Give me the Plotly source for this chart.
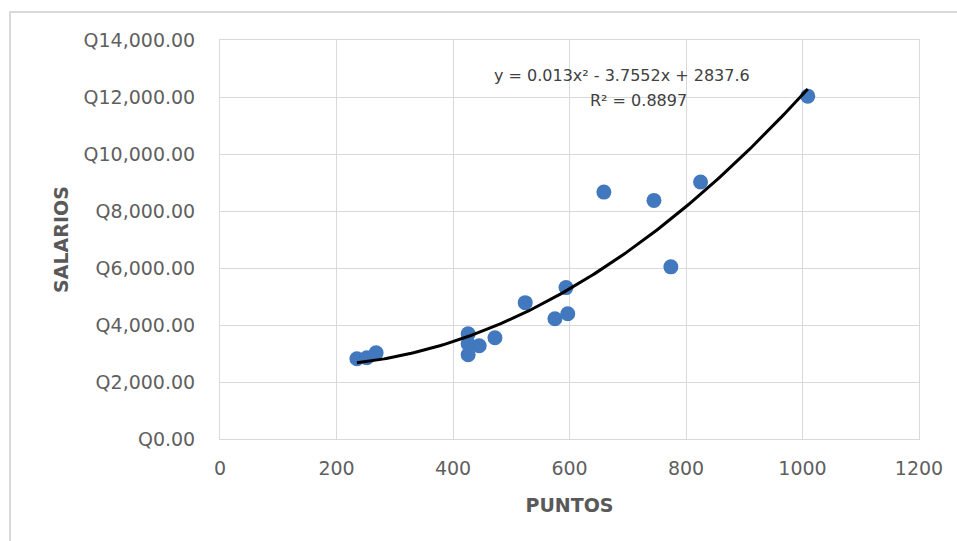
import numpy as np
import plotly.graph_objects as go

# Data
puntos = [235, 252, 268, 426, 426, 445, 426, 472, 524, 575, 597, 594, 659, 745, 774, 825, 1009]
salarios = [2814, 2849, 3025, 3693, 3342, 3271, 2955, 3553, 4784, 4221, 4397, 5312, 8664, 8372, 6040, 9016, 12030]

# Trendline coefficients shown in the chart label
coef_a, coef_b, coef_c = 0.013, -3.7552, 2837.6
eq_text = "y = 0.013x² - 3.7552x + 2837.6"
r2_text = "R² = 0.8897"

x_title = "PUNTOS"
y_title = "SALARIOS"

xs = np.linspace(min(puntos), max(puntos), 200)
ys = coef_a * xs**2 + coef_b * xs + coef_c

fig = go.Figure()
fig.add_trace(go.Scatter(x=puntos, y=salarios, mode="markers",
                         marker=dict(size=15, color="#4178BE"), showlegend=False))
fig.add_trace(go.Scatter(x=xs, y=ys, mode="lines",
                         line=dict(color="#000000", width=3), showlegend=False))

grid = "#D9D9D9"
tick_font = dict(family="DejaVu Sans", size=19, color="#5F5F5F")
title_font = dict(family="DejaVu Sans", size=19, color="#595959")

fig.update_layout(
    width=957, height=541,
    margin=dict(l=220, r=38, t=40, b=102),
    paper_bgcolor="white", plot_bgcolor="white",
    xaxis=dict(range=[0, 1200], dtick=200, tick0=0, showgrid=True, gridcolor=grid, gridwidth=1,
               showline=True, linecolor=grid, linewidth=1, mirror=True, zeroline=False,
               ticks="", tickfont=tick_font, ticklabelstandoff=12,
               title=dict(text="<b>" + x_title + "</b>", font=title_font, standoff=20)),
    yaxis=dict(range=[0, 14000], dtick=2000, tick0=0, showgrid=True, gridcolor=grid, gridwidth=1,
               showline=True, linecolor=grid, linewidth=1, mirror=True, zeroline=False,
               ticks="", tickfont=tick_font, tickprefix="Q", tickformat=",.2f",
               ticklabelstandoff=20,
               title=dict(text="<b>" + y_title + "</b>", font=title_font, standoff=9)),
    annotations=[
        dict(x=690, y=12769, xref="x", yref="y", text=eq_text, showarrow=False,
             font=dict(family="DejaVu Sans", size=16, color="#404040"), xanchor="center", yanchor="middle"),
        dict(x=719, y=11889, xref="x", yref="y", text=r2_text, showarrow=False,
             font=dict(family="DejaVu Sans", size=16, color="#404040"), xanchor="center", yanchor="middle"),
    ],
    shapes=[
        dict(type="rect", xref="paper", yref="paper",
             x0=-0.3004, x1=1.06, y0=-0.27, y1=1.0702,
             line=dict(color="#D9D9D9", width=2), layer="below"),
    ],
)

fig.write_html("out.html")
